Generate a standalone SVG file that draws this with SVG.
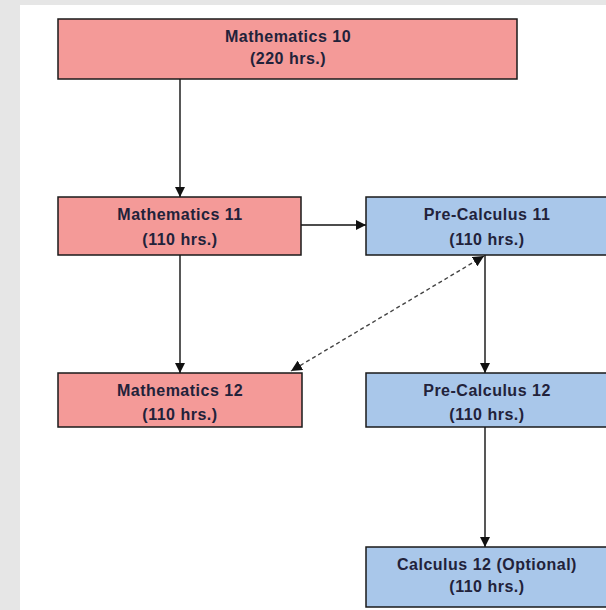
<svg xmlns="http://www.w3.org/2000/svg" width="606" height="610" viewBox="0 0 606 610">
<defs>
<style>
.pink{fill:#f49a98;stroke:#1a1a1a;stroke-width:1.5}
.blue{fill:#a9c7ea;stroke:#1a1a1a;stroke-width:1.5}
.t{font-family:"Liberation Sans",Arial,sans-serif;font-weight:bold;font-size:16px;letter-spacing:0.5px;fill:#22223a;text-anchor:middle}
.c{stroke:#111;stroke-width:1.4;fill:none}
.d{stroke:#444;stroke-width:1.4;fill:none;stroke-dasharray:4,3}
</style>
<marker id="ah" viewBox="0 0 10 10" refX="10" refY="5" markerWidth="10" markerHeight="10" markerUnits="userSpaceOnUse" orient="auto-start-reverse">
<path d="M0,0 L10,5 L0,10 z" fill="#111"/>
</marker>
<marker id="ah2" viewBox="0 0 10 10" refX="10" refY="5" markerWidth="11" markerHeight="11" markerUnits="userSpaceOnUse" orient="auto-start-reverse">
<path d="M0,0 L10,5 L0,10 z" fill="#111"/>
</marker>
</defs>
<rect x="0" y="0" width="606" height="610" fill="#e6e6e6"/>
<rect x="20" y="5" width="586" height="605" fill="#ffffff"/>
<g id="connectors">
<line class="c" x1="180" y1="79" x2="180" y2="197" marker-end="url(#ah)"/>
<line class="c" x1="180" y1="255" x2="180" y2="373" marker-end="url(#ah)"/>
<line class="c" x1="301" y1="225" x2="366" y2="225" marker-end="url(#ah)"/>
<line class="c" x1="485" y1="255" x2="485" y2="373" marker-end="url(#ah)"/>
<line class="c" x1="485" y1="427" x2="485" y2="547" marker-end="url(#ah)"/>
<line class="d" x1="484" y1="256" x2="291" y2="371" marker-start="url(#ah2)" marker-end="url(#ah2)"/>
</g>
<g id="math10">
<rect class="pink" x="58" y="19" width="459" height="60"/>
<text class="t" x="288" y="42">Mathematics 10</text>
<text class="t" x="288" y="64">(220 hrs.)</text>
</g>
<g id="math11">
<rect class="pink" x="58" y="197" width="243" height="58"/>
<text class="t" x="180" y="220">Mathematics 11</text>
<text class="t" x="180" y="245">(110 hrs.)</text>
</g>
<g id="math12">
<rect class="pink" x="58" y="373" width="244" height="54"/>
<text class="t" x="180" y="396">Mathematics 12</text>
<text class="t" x="180" y="420">(110 hrs.)</text>
</g>
<g id="precalc11">
<rect class="blue" x="366" y="197" width="250" height="58"/>
<text class="t" x="487" y="220">Pre-Calculus 11</text>
<text class="t" x="487" y="245">(110 hrs.)</text>
</g>
<g id="precalc12">
<rect class="blue" x="366" y="373" width="250" height="54"/>
<text class="t" x="487" y="396">Pre-Calculus 12</text>
<text class="t" x="487" y="420">(110 hrs.)</text>
</g>
<g id="calc12">
<rect class="blue" x="366" y="547" width="250" height="60"/>
<text class="t" x="487" y="570">Calculus 12 (Optional)</text>
<text class="t" x="487" y="592">(110 hrs.)</text>
</g>
</svg>
